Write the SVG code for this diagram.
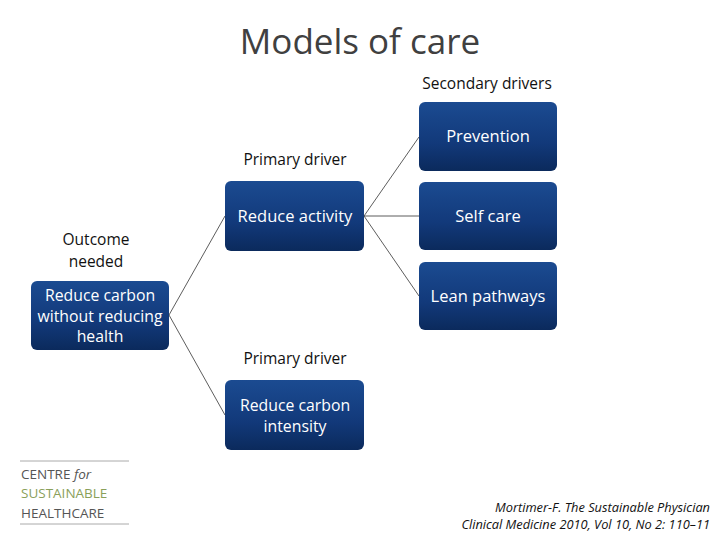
<svg xmlns="http://www.w3.org/2000/svg" width="720" height="540" viewBox="0 0 720 540">
<defs>
<linearGradient id="g" x1="0" y1="0" x2="0" y2="1">
<stop offset="0" stop-color="#1b4b91"/>
<stop offset="0.6" stop-color="#12397a"/>
<stop offset="1" stop-color="#0b2a5c"/>
</linearGradient>
</defs>
<style>
.box{fill:url(#g);}
.bt{font-family:"Open Sans","Liberation Sans",sans-serif;font-size:16.5px;fill:#ffffff;text-anchor:middle;}
.bt2{font-size:15.8px;}
.lb{font-family:"Open Sans","Liberation Sans",sans-serif;font-size:15.5px;fill:#111111;text-anchor:middle;}
.cn{stroke:#333333;stroke-width:0.8;fill:none;}
.logo{font-family:"Open Sans","Liberation Sans",sans-serif;font-size:13.5px;fill:#555555;}
.green{fill:#8aa05a;}
.cit{font-family:"Open Sans","Liberation Sans",sans-serif;font-size:12.8px;font-style:italic;fill:#111111;text-anchor:end;}
</style>
<rect width="720" height="540" fill="#ffffff"/>
<text x="360" y="54" font-family="Open Sans, Liberation Sans, sans-serif" font-size="35" fill="#404040" text-anchor="middle">Models of care</text>
<text class="lb" x="487" y="89">Secondary drivers</text>
<text class="lb" x="295" y="165">Primary driver</text>
<text class="lb" x="96" y="245">Outcome</text>
<text class="lb" x="96" y="267">needed</text>
<text class="lb" x="295" y="364">Primary driver</text>
<g id="connectors">
<line class="cn" x1="169" y1="315" x2="225" y2="216"/>
<line class="cn" x1="169" y1="315" x2="225" y2="415"/>
<line class="cn" x1="364" y1="216" x2="419" y2="137"/>
<line class="cn" x1="364" y1="216" x2="419" y2="216"/>
<line class="cn" x1="364" y1="216" x2="419" y2="296"/>
</g>
<g id="outcome">
<rect class="box" x="31" y="281" width="138" height="69" rx="6"/>
<text class="bt bt2" x="100" y="301">Reduce carbon</text>
<text class="bt bt2" x="100" y="321.5">without reducing</text>
<text class="bt bt2" x="100" y="342">health</text>
</g>
<g id="reduce-activity">
<rect class="box" x="225" y="181" width="139" height="70" rx="6"/>
<text class="bt" x="295" y="222">Reduce activity</text>
</g>
<g id="reduce-intensity">
<rect class="box" x="225" y="380" width="139" height="70" rx="6"/>
<text class="bt bt2" x="295" y="411">Reduce carbon</text>
<text class="bt bt2" x="295" y="432">intensity</text>
</g>
<g id="prevention">
<rect class="box" x="419" y="102" width="138" height="69" rx="6"/>
<text class="bt" x="488" y="142">Prevention</text>
</g>
<g id="self-care">
<rect class="box" x="419" y="182" width="138" height="68" rx="6"/>
<text class="bt" x="488" y="222">Self care</text>
</g>
<g id="lean">
<rect class="box" x="419" y="262" width="138" height="68" rx="6"/>
<text class="bt" x="488" y="302">Lean pathways</text>
</g>
<g id="logo">
<line x1="20" y1="461" x2="129" y2="461" stroke="#aaaaaa" stroke-width="1"/>
<line x1="20" y1="524" x2="129" y2="524" stroke="#aaaaaa" stroke-width="1"/>
<text class="logo" x="21" y="479">CENTRE <tspan font-style="italic">for</tspan></text>
<text class="logo green" x="21" y="498">SUSTAINABLE</text>
<text class="logo" x="21" y="518">HEALTHCARE</text>
</g>
<text class="cit" x="710" y="512">Mortimer-F. The Sustainable Physician</text>
<text class="cit" x="710" y="529">Clinical Medicine 2010, Vol 10, No 2: 110–11</text>
</svg>
